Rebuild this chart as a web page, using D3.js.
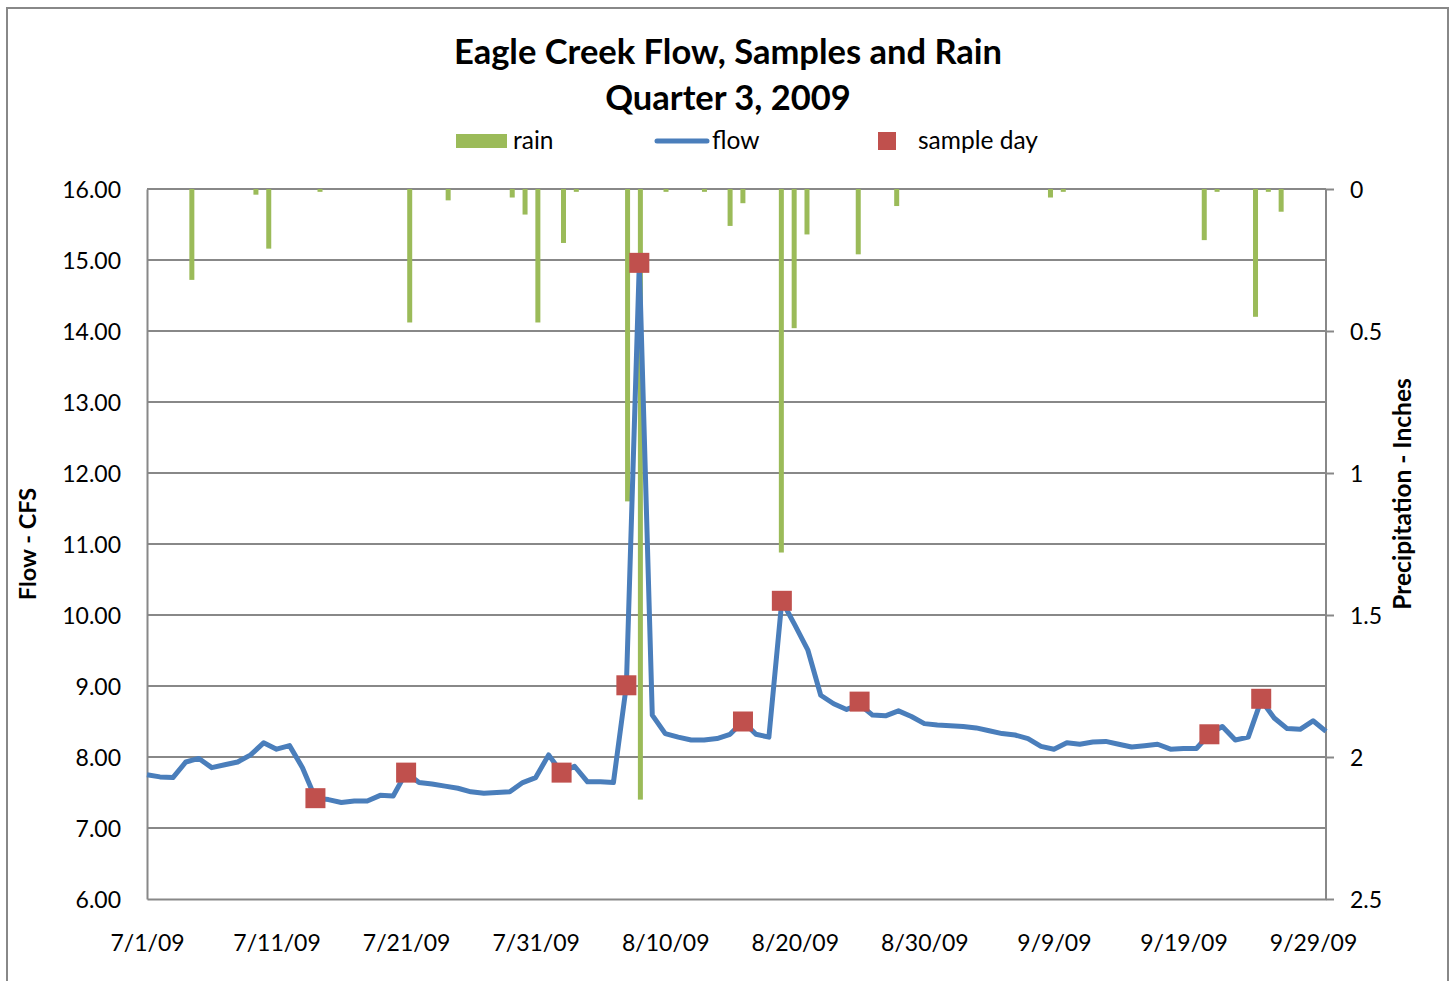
<!DOCTYPE html>
<html>
<head>
<meta charset="utf-8">
<script src="https://cdn.jsdelivr.net/npm/d3@7"></script>
<style>
  body { margin: 0; background: #fff; }
  text { font-family: Lato, "Open Sans", sans-serif; fill: #000; }
</style>
</head>
<body>
<div id="chart"></div>
<script>
// Daily flow (CFS), one value per day starting 7/1/09
var startDay = "7/1/09";
var flowValues = [
    7.75, 7.72, 7.71, 7.93, 7.98, 7.85, 7.89, 7.93, 8.03, 8.20,
    8.11, 8.16, 7.85, 7.42, 7.40, 7.36, 7.38, 7.38, 7.46, 7.45,
    7.78, 7.64, 7.62, 7.59, 7.56, 7.51, 7.49, 7.50, 7.51, 7.64,
    7.71, 8.03, 7.78, 7.87, 7.65, 7.65, 7.64, 9.01, 14.96, 8.59,
    8.33, 8.28, 8.24, 8.24, 8.26, 8.32, 8.50, 8.32, 8.28, 10.20,
    9.86, 9.51, 8.87, 8.75, 8.67, 8.74, 8.59, 8.58, 8.65, 8.57,
    8.47, 8.45, 8.44, 8.43, 8.41, 8.37, 8.33, 8.31, 8.26, 8.15,
    8.11, 8.20, 8.18, 8.21, 8.22, 8.18, 8.14, 8.16, 8.18, 8.11,
    8.12, 8.12, 8.32, 8.43, 8.24, 8.28, 8.80, 8.55, 8.40, 8.39,
    8.51, 8.36
];

// Rain (inches) on the days it fell
var rainDays = ["7/4/09", "7/9/09", "7/10/09", "7/14/09", "7/21/09", "7/24/09", "7/29/09", "7/30/09",
    "7/31/09", "8/2/09", "8/3/09", "8/7/09", "8/8/09", "8/10/09", "8/13/09", "8/15/09", "8/16/09",
    "8/19/09", "8/20/09", "8/21/09", "8/25/09", "8/28/09", "9/9/09", "9/10/09", "9/21/09", "9/22/09",
    "9/25/09", "9/26/09", "9/27/09"];
var rainValues = [0.32, 0.02, 0.21, 0.01, 0.47, 0.04, 0.03, 0.09,
    0.47, 0.19, 0.01, 1.10, 2.15, 0.01, 0.01, 0.13, 0.05,
    1.28, 0.49, 0.16, 0.23, 0.06, 0.03, 0.01, 0.18, 0.01,
    0.45, 0.01, 0.08];

// Sample days (flow on that day)
var sampleDays = ["7/14/09", "7/21/09", "8/2/09", "8/7/09", "8/8/09", "8/16/09", "8/19/09", "8/25/09", "9/21/09", "9/25/09"];
var sampleValues = [7.42, 7.78, 7.78, 9.01, 14.96, 8.50, 10.20, 8.78, 8.32, 8.82];

var flowTicks = [6, 7, 8, 9, 10, 11, 12, 13, 14, 15, 16];
var rainTicks = [0, 0.5, 1, 1.5, 2, 2.5];

var svgWidth = 1456;
var svgHeight = 981;
var margin = { top: 189, left: 147, right: 130, bottom: 82 };
var width = svgWidth - margin.left - margin.right;
var height = svgHeight - margin.top - margin.bottom;

var parseDate = d3.timeParse("%m/%d/%y");
var fmt = d3.timeFormat("%-m/%-d/%y");
var start = parseDate(startDay);

var flowData = flowValues.map((v, i) => ({ date: d3.timeDay.offset(start, i), value: v }));
var rainData = rainDays.map((d, i) => ({ date: parseDate(d), value: rainValues[i] }));
var sampleData = sampleDays.map((d, i) => ({ date: parseDate(d), value: sampleValues[i] }));
var lastDay = flowData[flowData.length - 1].date;

var green = "#9BBB59", blue = "#4A7EBB", red = "#C0504D", grid = "#888888";

var svg = d3.select("#chart").append("svg")
    .attr("width", svgWidth)
    .attr("height", svgHeight);

// outer chart border
svg.append("rect")
    .attr("x", 7).attr("y", 8)
    .attr("width", 1441).attr("height", 1000)
    .attr("fill", "none").attr("stroke", grid).attr("stroke-width", 2);

var chartGroup = svg.append("g")
    .attr("transform", `translate(${margin.left}, ${margin.top})`);

var xTime = d3.scaleTime().domain([start, lastDay]).range([0, width]);
var xBand = d3.scaleBand()
    .domain(d3.timeDay.range(start, d3.timeDay.offset(lastDay, 1)).map(fmt))
    .range([0, width]);
var yFlow = d3.scaleLinear().domain([6, 16]).range([height, 0]);
var yRain = d3.scaleLinear().domain([0, 2.5]).range([0, height]);

// gridlines
chartGroup.append("g")
    .selectAll("line")
    .data(flowTicks.slice(1))
    .enter()
    .append("line")
    .attr("x1", 0).attr("x2", width)
    .attr("y1", d => yFlow(d)).attr("y2", d => yFlow(d))
    .attr("stroke", grid).attr("stroke-width", 2);

// left axis
var leftAxis = d3.axisLeft(yFlow).tickValues(flowTicks).tickFormat(d3.format(".2f")).tickSize(0).tickPadding(26);
var yAxisL = chartGroup.append("g").call(leftAxis);
yAxisL.select(".domain").attr("stroke", grid).attr("stroke-width", 2);
yAxisL.selectAll("text").style("font-size", "23px").attr("dy", "0.35em");

// right axis
var rightAxis = d3.axisRight(yRain).tickValues(rainTicks).tickFormat(d3.format("")).tickSize(8).tickPadding(16);
var yAxisR = chartGroup.append("g").attr("transform", `translate(${width}, 0)`).call(rightAxis);
yAxisR.select(".domain").attr("stroke", grid).attr("stroke-width", 2).attr("d", `M0,0V${height}`);
yAxisR.selectAll(".tick line").attr("stroke", grid).attr("stroke-width", 2);
yAxisR.selectAll("text").style("font-size", "23px").attr("dy", "0.35em");

// bottom axis
var bottomAxis = d3.axisBottom(xTime)
    .tickValues(d3.timeDay.range(start, lastDay, 10))
    .tickFormat(fmt).tickSize(0).tickPadding(36);
var xAxis = chartGroup.append("g").attr("transform", `translate(0, ${height})`).call(bottomAxis);
xAxis.select(".domain").attr("stroke", grid).attr("stroke-width", 2);
xAxis.selectAll("text").style("font-size", "23px");

// rain bars hanging from the top
chartGroup.append("g")
    .selectAll("rect")
    .data(rainData)
    .enter()
    .append("rect")
    .attr("x", d => xBand(fmt(d.date)) + xBand.bandwidth() / 2 - 2.5)
    .attr("y", 0)
    .attr("width", 5)
    .attr("height", d => yRain(d.value))
    .attr("fill", green);

// flow line
var line = d3.line().x(d => xTime(d.date)).y(d => yFlow(d.value));
chartGroup.append("path")
    .datum(flowData)
    .attr("d", line)
    .attr("fill", "none")
    .attr("stroke", blue)
    .attr("stroke-width", 5)
    .attr("stroke-linejoin", "round");

// sample markers
chartGroup.append("g")
    .selectAll("rect")
    .data(sampleData)
    .enter()
    .append("rect")
    .attr("x", d => xTime(d.date) - 10)
    .attr("y", d => yFlow(d.value) - 10)
    .attr("width", 20).attr("height", 20)
    .attr("fill", red);

// axis titles
svg.append("text")
    .attr("transform", "translate(36, 544) rotate(-90)")
    .attr("text-anchor", "middle")
    .style("font-size", "23.5px").style("font-weight", "bold")
    .text("Flow - CFS");
svg.append("text")
    .attr("transform", "translate(1411, 494) rotate(-90)")
    .attr("text-anchor", "middle")
    .style("font-size", "24.5px").style("font-weight", "bold")
    .text("Precipitation - Inches");

// title
var title = svg.append("text").attr("text-anchor", "middle")
    .style("font-size", "34.5px").style("font-weight", "bold");
title.append("tspan").attr("x", 728).attr("y", 64).text("Eagle Creek Flow, Samples and Rain");
title.append("tspan").attr("x", 728).attr("y", 110).text("Quarter 3, 2009");

// legend
var legend = svg.append("g");
legend.append("rect").attr("x", 456).attr("y", 134).attr("width", 51).attr("height", 14).attr("fill", green);
legend.append("text").attr("x", 513).attr("y", 149).style("font-size", "24.5px").text("rain");
legend.append("line").attr("x1", 657).attr("x2", 707).attr("y1", 141).attr("y2", 141)
    .attr("stroke", blue).attr("stroke-width", 5).attr("stroke-linecap", "round");
legend.append("text").attr("x", 712).attr("y", 149).style("font-size", "24.5px").text("flow");
legend.append("rect").attr("x", 878).attr("y", 132).attr("width", 18).attr("height", 18).attr("fill", red);
legend.append("text").attr("x", 918).attr("y", 149).style("font-size", "24.5px").text("sample day");
</script>
</body>
</html>
